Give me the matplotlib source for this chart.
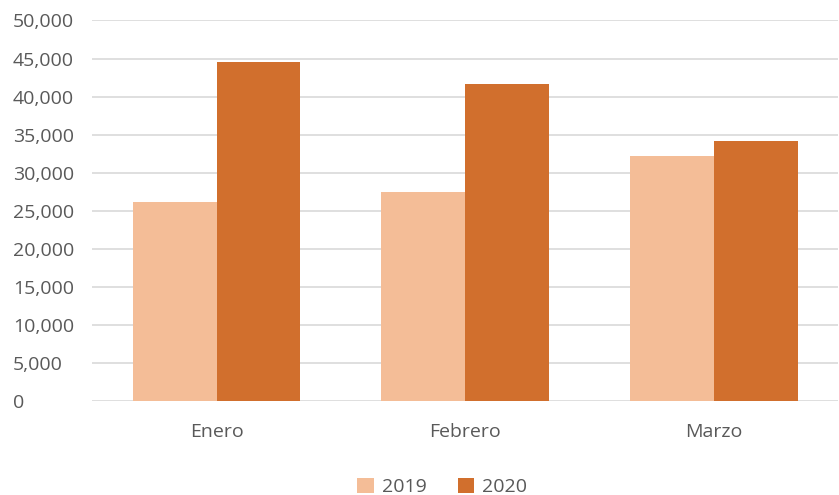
import numpy as np
import matplotlib.pyplot as plt
from matplotlib.ticker import FuncFormatter

meses = ["Enero", "Febrero", "Marzo"]
ventas_2019 = [26150, 27400, 32200]
ventas_2020 = [44600, 41600, 34150]
anios = ["2019", "2020"]
colores = ["#F4BD97", "#D16F2D"]

plt.rcParams['font.family'] = ['Open Sans', 'DejaVu Sans']

fig = plt.figure(figsize=(8.39, 4.95), dpi=100)
ax = fig.add_axes([0.11, 0.19, 0.889, 0.7686])

x = np.arange(len(meses))
ancho = 0.337
ax.bar(x - ancho / 2, ventas_2019, ancho, color=colores[0], label=anios[0], zorder=2)
ax.bar(x + ancho / 2, ventas_2020, ancho, color=colores[1], label=anios[1], zorder=2)

ax.set_xlim(-0.5, len(meses) - 0.5)
ax.set_ylim(0, 50000)
ax.set_yticks(np.arange(0, 50001, 5000))
ax.yaxis.set_major_formatter(FuncFormatter(lambda v, p: f"{int(v):,}"))
ax.set_xticks(x)
ax.set_xticklabels(meses)

ax.grid(axis='y', color='#D9D9D9', linewidth=1.2, zorder=0)
for s in ax.spines.values():
    s.set_visible(False)
ax.tick_params(axis='both', length=0, labelsize=14, labelcolor='#595959')
# etiquetas del eje y alineadas a la izquierda
ax.tick_params(axis='y', pad=57)
for lbl in ax.get_yticklabels():
    lbl.set_horizontalalignment('left')
ax.tick_params(axis='x', pad=16)

fig.legend(loc='center', bbox_to_anchor=(0.527, 0.016), ncol=2, frameon=False,
           fontsize=14, labelcolor='#595959', handlelength=0.85, handleheight=0.85,
           handletextpad=0.4, columnspacing=1.6)

fig.savefig("out.png", dpi=100)
